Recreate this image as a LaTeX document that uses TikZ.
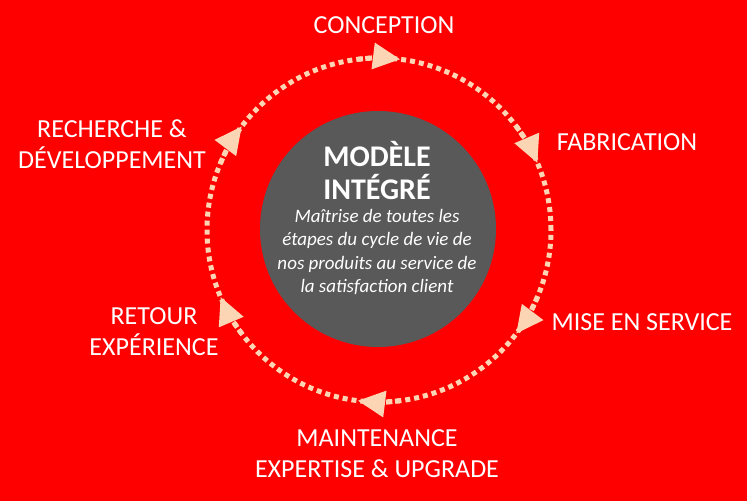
\documentclass[tikz,border=0pt]{standalone}
\usepackage{fontspec}
\setmainfont{Carlito}
\usetikzlibrary{arrows.meta}

\definecolor{fond}{RGB}{255,0,0}
\definecolor{peche}{RGB}{252,213,180}
\definecolor{gris}{RGB}{89,89,89}

\begin{document}
\begin{tikzpicture}[x=1pt,y=1pt,
  etape/.style={text=white,align=center,anchor=base,inner sep=0pt,
    font=\fontsize{26}{31}\selectfont},
  pointille/.style={peche,line width=5pt,dash pattern=on 5pt off 4pt},
  fleche/.style={pointille,-{Triangle[length=27pt,width=27pt,line width=0pt]}}]

  \fill[fond] (0,0) rectangle (747,501);

  % cycle
  \coordinate (centre) at (379,271);
  \draw[pointille] (centre) circle (172);
  \foreach \a in {83,23,-37,-97,-157,143}
    \draw[fleche] (centre) ++(\a+14:172) arc (\a+14:\a:172);

  % disque central
  \node[circle,fill=gris,minimum size=236pt,inner sep=0pt] (disque) at (378,272) {};
  \node[etape,font=\bfseries\fontsize{30}{33}\selectfont] (titre) at (377,301) {MODÈLE\\INTÉGRÉ};
  \node[etape,font=\itshape\fontsize{19}{23.5}\selectfont] (texte) at (377,208)
    {Maîtrise de toutes les\\étapes du cycle de vie de\\nos produits au service de\\la satisfaction client};

  % etapes (base = derniere ligne)
  \node[etape] (conception) at (384,467) {CONCEPTION};
  \node[etape] (fabrication) at (627,350) {FABRICATION};
  \node[etape] (service) at (642,170) {MISE EN SERVICE};
  \node[etape] (maintenance) at (377,24) {MAINTENANCE\\EXPERTISE \& UPGRADE};
  \node[etape] (retour) at (154,145) {RETOUR\\EXPÉRIENCE};
  \node[etape] (recherche) at (112,332) {RECHERCHE \&\\DÉVELOPPEMENT};

\end{tikzpicture}
\end{document}
